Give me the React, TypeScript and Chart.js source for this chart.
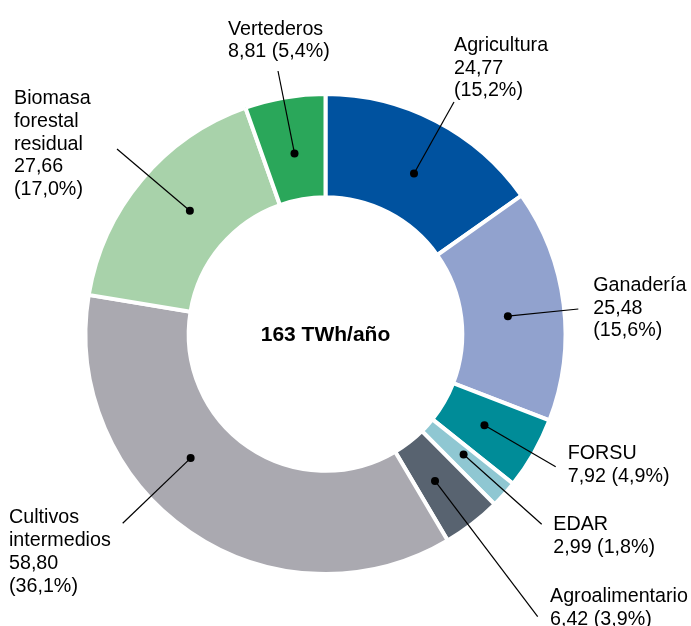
import React, { useEffect, useRef } from "react";
import { Chart, registerables } from "chart.js";

Chart.register(...registerables);

const categories = [
  "Agricultura",
  "Ganadería",
  "FORSU",
  "EDAR",
  "Agroalimentario",
  "Cultivos intermedios",
  "Biomasa forestal residual",
  "Vertederos",
];
const values = [24.77, 25.48, 7.92, 2.99, 6.42, 58.8, 27.66, 8.81];
const colors = ["#00529f", "#91a2ce", "#008c98", "#8fc7d2", "#586370", "#aaa9b0", "#a8d2aa", "#2aa75a"];
// how the category name is split over lines in each label
const nameLines = [
  ["Agricultura"],
  ["Ganadería"],
  ["FORSU"],
  ["EDAR"],
  ["Agroalimentario"],
  ["Cultivos", "intermedios"],
  ["Biomasa", "forestal", "residual"],
  ["Vertederos"],
];
// whether value and percentage share a line
const valueOnOneLine = [false, false, true, true, true, false, false, true];
const centerLabel = "163 TWh/año";

// annotation layout (relative to doughnut centre): label anchor, leader end, dot angle tweak (deg)
const labelOffsets = [
  [128.5, -283.3], [267.8, -43.3], [242.2, 125], [227.8, 196], [224.5, 267.7],
  [-316.5, 189.3], [-311.5, -230], [-97.5, -299.5],
];
const leaderEnds = [
  [128.5, -232], [252.8, -25], [230.2, 132.7], [216.2, 190.3], [212.2, 282.7],
  [-202.8, 189.3], [-208.5, -185], [-47.5, -263],
];
const dotAngleTweak = [1.5, 1.5, 0, -0.8, 1, 13, 2.3, 0];

const FONT = '"Liberation Sans", Arial, sans-serif';

const fmt = (v: number, d: number) => v.toFixed(d).replace(".", ",");

const labelPlugin = {
  id: "donutLabels",
  afterDraw(chart: any) {
    const ctx = chart.ctx;
    const meta = chart.getDatasetMeta(0);
    const total = values.reduce((a, b) => a + b, 0);
    ctx.save();
    let cx = 0, cy = 0;
    meta.data.forEach((arc: any, i: number) => {
      const p = arc.getProps(["x", "y", "startAngle", "endAngle", "innerRadius", "outerRadius"], true);
      cx = p.x; cy = p.y;
      const mid = (p.startAngle + p.endAngle) / 2 + (dotAngleTweak[i] * Math.PI) / 180;
      const r = p.innerRadius + 0.45 * (p.outerRadius - p.innerRadius);
      const dx = p.x + r * Math.cos(mid);
      const dy = p.y + r * Math.sin(mid);
      const ex = p.x + leaderEnds[i][0];
      const ey = p.y + leaderEnds[i][1];
      ctx.strokeStyle = "#000";
      ctx.lineWidth = 1.2;
      ctx.beginPath();
      ctx.moveTo(dx, dy);
      ctx.lineTo(ex, ey);
      ctx.stroke();
      ctx.fillStyle = "#000";
      ctx.beginPath();
      ctx.arc(dx, dy, 4, 0, Math.PI * 2);
      ctx.fill();

      const valTxt = fmt(values[i], 2);
      const pctTxt = "(" + fmt((values[i] / total) * 100, 1) + "%)";
      const lines = [...nameLines[i]];
      if (valueOnOneLine[i]) lines.push(valTxt + " " + pctTxt);
      else lines.push(valTxt, pctTxt);
      ctx.font = `19.7px ${FONT}`;
      ctx.textAlign = "left";
      ctx.textBaseline = "alphabetic";
      const lx = p.x + labelOffsets[i][0];
      const ly = p.y + labelOffsets[i][1];
      lines.forEach((t, k) => ctx.fillText(t, lx, ly + k * 22.8));
    });
    ctx.font = `bold 21px ${FONT}`;
    ctx.textAlign = "center";
    ctx.textBaseline = "middle";
    ctx.fillStyle = "#000";
    ctx.fillText(centerLabel, cx, cy + 1);
    ctx.restore();
  },
};

export default function App() {
  const ref = useRef<HTMLCanvasElement>(null);
  useEffect(() => {
    if (!ref.current) return;
    const chart = new Chart(ref.current, {
      type: "doughnut",
      data: {
        labels: categories,
        datasets: [
          {
            data: values,
            backgroundColor: colors,
            borderColor: "#ffffff",
            borderWidth: 4,
            borderAlign: "center",
            borderJoinStyle: "miter",
            spacing: 0,
          } as any,
        ],
      },
      options: {
        animation: false,
        responsive: true,
        maintainAspectRatio: false,
        cutout: "57%",
        layout: { padding: { left: 83.5, right: 123.5, top: 92, bottom: 50 } },
        plugins: { legend: { display: false }, tooltip: { enabled: false } },
      },
      plugins: [labelPlugin],
    });
    return () => chart.destroy();
  }, []);
  return (
    <div style={{ position: "fixed", left: 0, top: 0, width: 691, height: 626, background: "#fff" }}>
      <canvas ref={ref} />
    </div>
  );
}
